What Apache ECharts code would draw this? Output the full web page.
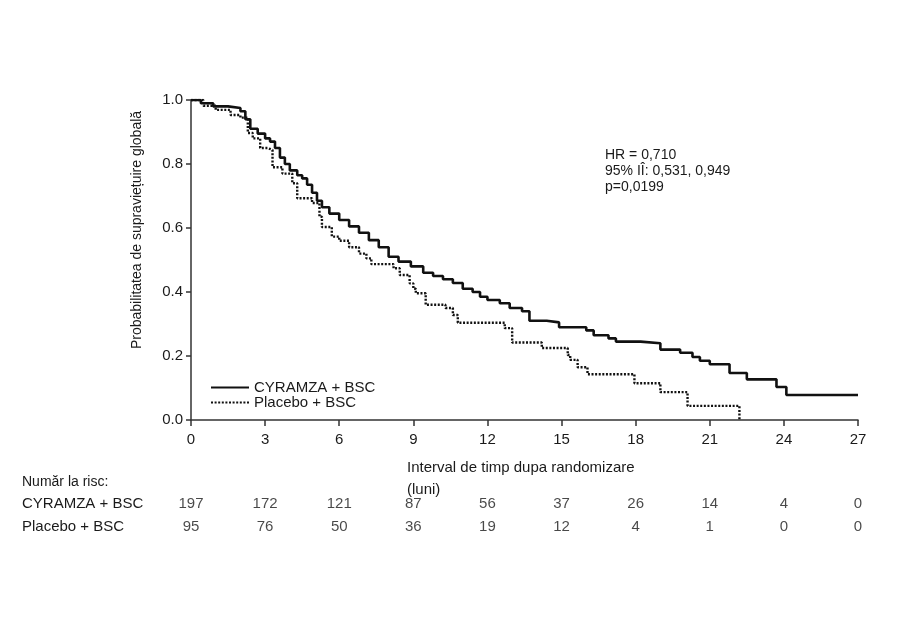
<!DOCTYPE html>
<html>
<head>
<meta charset="utf-8">
<title>Supravietuire globala</title>
<script src="https://cdn.jsdelivr.net/npm/echarts@6/dist/echarts.min.js"></script>
<style>
  html, body { margin: 0; padding: 0; background: #fff; }
  #main { width: 919px; height: 638px; }
</style>
</head>
<body>
<div id="main"></div>
<script>
// date
var cyrTime = [0, 0.4, 0.9, 1.5, 2.0, 2.2, 2.4, 2.7, 3.0, 3.2, 3.4, 3.6, 3.8, 4.0, 4.3, 4.5, 4.7, 4.9, 5.1, 5.3, 5.6, 6.0, 6.4, 6.8, 7.2, 7.6, 8.0, 8.4, 8.9, 9.4, 9.8, 10.2, 10.6, 11.0, 11.4, 11.7, 12.0, 12.5, 12.9, 13.4, 13.7, 14.4, 14.9, 16.0, 16.3, 16.9, 17.2, 18.2, 19.0, 19.8, 20.3, 20.6, 21.0, 21.8, 22.5, 23.7, 24.1, 27];
var cyrSurv = [1.0, 0.99, 0.98, 0.975, 0.965, 0.94, 0.91, 0.895, 0.88, 0.87, 0.85, 0.82, 0.80, 0.78, 0.765, 0.755, 0.735, 0.71, 0.685, 0.665, 0.645, 0.625, 0.605, 0.585, 0.562, 0.54, 0.51, 0.495, 0.48, 0.46, 0.45, 0.44, 0.428, 0.41, 0.40, 0.385, 0.375, 0.365, 0.35, 0.34, 0.31, 0.305, 0.29, 0.28, 0.265, 0.255, 0.245, 0.24, 0.22, 0.21, 0.197, 0.185, 0.174, 0.147, 0.127, 0.103, 0.078, 0.078];

var plaTime = [0, 0.5, 1.0, 1.6, 2.0, 2.3, 2.5, 2.8, 3.1, 3.3, 3.7, 4.1, 4.3, 4.9, 5.2, 5.3, 5.7, 6.0, 6.4, 6.8, 7.1, 7.3, 8.2, 8.45, 8.85, 9.0, 9.1, 9.5, 10.3, 10.6, 10.8, 12.7, 13.0, 14.2, 15.25, 15.35, 15.65, 16.05, 17.95, 19.0, 20.1, 22.2];
var plaSurv = [1.0, 0.982, 0.969, 0.953, 0.945, 0.897, 0.88, 0.85, 0.844, 0.79, 0.77, 0.74, 0.693, 0.678, 0.635, 0.603, 0.573, 0.56, 0.54, 0.52, 0.505, 0.487, 0.474, 0.453, 0.427, 0.41, 0.396, 0.36, 0.35, 0.328, 0.304, 0.287, 0.242, 0.225, 0.203, 0.188, 0.165, 0.143, 0.115, 0.087, 0.044, 0.0];

var arms = ["CYRAMZA + BSC", "Placebo + BSC"];
var riskMonths = [0, 3, 6, 9, 12, 15, 18, 21, 24, 27];
var riskCyr = [197, 172, 121, 87, 56, 37, 26, 14, 4, 0];
var riskPla = [95, 76, 50, 36, 19, 12, 4, 1, 0, 0];
var statsText = ["HR = 0,710", "95% IÎ: 0,531, 0,949", "p=0,0199"];

var font = "Liberation Sans, Arial, sans-serif";
var ink = "#1a1a1a";

function pairs(t, s) {
  var out = [];
  for (var i = 0; i < t.length; i++) {
    out.push([t[i], s[i]]);
  }
  return out;
}

var riskData = [];
for (var i = 0; i < riskMonths.length; i++) {
  riskData.push([riskMonths[i], 0, riskCyr[i]]);
  riskData.push([riskMonths[i], 1, riskPla[i]]);
}

var myChart = echarts.init(document.getElementById("main"));

var option = {
  backgroundColor: "#fff",
  animation: false,
  textStyle: { fontFamily: font, color: ink },
  legend: {
    orient: "vertical",
    left: 210,
    top: 380,
    padding: 0,
    itemWidth: 38,
    itemHeight: 10,
    itemGap: 0,
    data: arms,
    itemStyle: { opacity: 0 },
    textStyle: { fontSize: 15, color: ink, lineHeight: 15, fontFamily: font }
  },
  grid: [
    { left: 191, right: 61, top: 100, bottom: 218 },
    { left: 191, right: 61, top: 493, height: 45 }
  ],
  xAxis: [
    {
      type: "value",
      gridIndex: 0,
      min: 0,
      max: 27,
      interval: 3,
      splitLine: { show: false },
      axisLine: { lineStyle: { color: "#333", width: 1.5 } },
      axisTick: { length: 6, lineStyle: { color: "#333", width: 1.5 } },
      axisLabel: { fontSize: 15, color: ink, margin: 12, fontFamily: font }
    },
    {
      type: "value",
      gridIndex: 1,
      min: 0,
      max: 27,
      show: false
    }
  ],
  yAxis: [
    {
      type: "value",
      gridIndex: 0,
      min: 0,
      max: 1,
      interval: 0.2,
      splitLine: { show: false },
      axisLine: { show: true, lineStyle: { color: "#333", width: 1.5 } },
      axisTick: { show: true, length: 5, lineStyle: { color: "#333", width: 1.5 } },
      axisLabel: {
        fontSize: 15,
        color: ink,
        margin: 8,
        fontFamily: font,
        formatter: function (v) { return v.toFixed(1); }
      }
    },
    {
      type: "category",
      gridIndex: 1,
      inverse: true,
      data: arms,
      axisLine: { show: false },
      axisTick: { show: false },
      splitLine: { show: false },
      axisLabel: { align: "left", margin: 169, fontSize: 15, color: ink, fontFamily: font }
    }
  ],
  graphic: [
    {
      type: "text",
      left: 605,
      top: 147,
      style: { text: statsText.join("\n"), font: "14px " + font, fill: ink, lineHeight: 16 }
    },
    {
      type: "text",
      x: 137,
      y: 230,
      rotation: Math.PI / 2,
      style: {
        text: "Probabilitatea de supraviețuire globală",
        font: "14px " + font,
        fill: ink,
        align: "center",
        verticalAlign: "middle"
      }
    },
    {
      type: "text",
      left: 407,
      top: 457,
      style: { text: "Interval de timp dupa randomizare\n(luni)", font: "15px " + font, fill: ink, lineHeight: 22 }
    },
    {
      type: "text",
      left: 22,
      top: 475,
      style: { text: "Număr la risc:", font: "14px " + font, fill: ink }
    }
  ],
  series: [
    {
      type: "line",
      name: arms[0],
      step: "end",
      symbol: "none",
      data: pairs(cyrTime, cyrSurv),
      lineStyle: { color: "#111", width: 2.6 },
      itemStyle: { color: "#111" },
      z: 3
    },
    {
      type: "line",
      name: arms[1],
      step: "end",
      symbol: "none",
      data: pairs(plaTime, plaSurv),
      lineStyle: { color: "#111", width: 2.4, type: [2, 1.6] },
      itemStyle: { color: "#111" },
      z: 2
    },
    {
      type: "scatter",
      xAxisIndex: 1,
      yAxisIndex: 1,
      symbolSize: 1,
      itemStyle: { color: "rgba(0,0,0,0)" },
      data: riskData,
      label: {
        show: true,
        position: "inside",
        fontSize: 15,
        color: ink,
        fontFamily: font,
        formatter: function (p) { return p.value[2]; }
      }
    }
  ]
};
myChart.setOption(option);
</script>
</body>
</html>
